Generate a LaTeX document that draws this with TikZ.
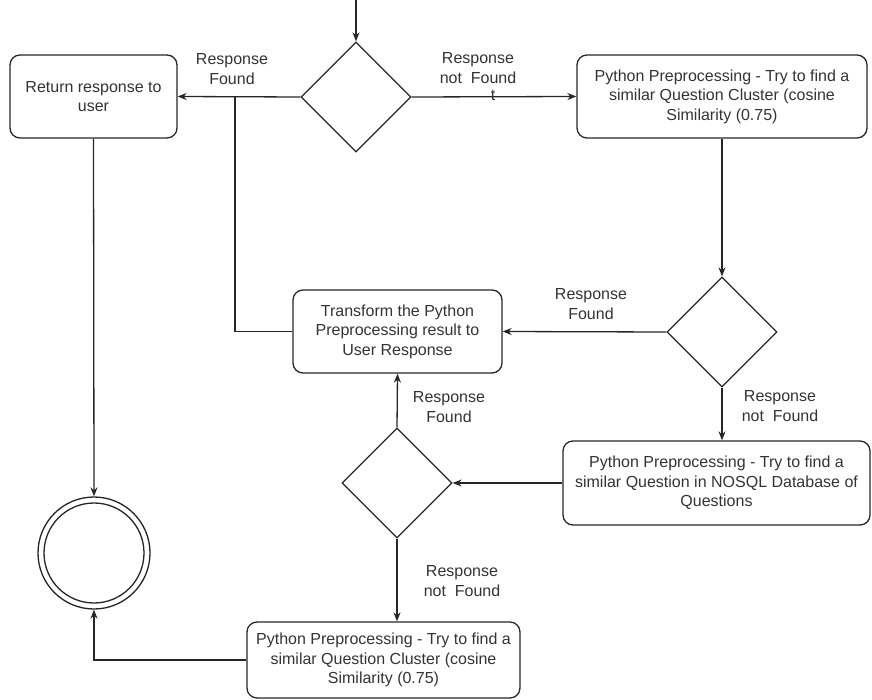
\documentclass[tikz,border=0pt]{standalone}
\usepackage{fontspec}
\setmainfont{Liberation Sans}
\usetikzlibrary{shapes.geometric,arrows.meta}
\newcommand\myfs{\fontsize{16}{19.5}\selectfont}
\begin{document}
\begin{tikzpicture}[x=1pt,y=-1pt,
  ln/.style={line width=1.3pt, draw=black!85},
  box/.style={draw=black!85, line width=1.3pt, rounded corners=10pt, align=center, inner sep=0pt, font=\myfs, text=black!80},
  dec/.style={draw=black!85, line width=1.3pt, diamond, aspect=1, minimum width=110pt, minimum height=110pt, inner sep=0pt},
  lbl/.style={align=center, font=\myfs, text=black!80, inner sep=0pt},
  arr/.style={ln, -{Stealth[length=9pt,width=7pt]}}
]
\useasboundingbox (0,0) rectangle (872,700);
\coordinate (start) at (356,0);
\coordinate (j) at (235,97);

\node[box, minimum width=167pt, minimum height=83pt] (ret) at (93.5,96.5) {Return response to\\user};
\node[box, minimum width=290pt, minimum height=83pt] (b2) at (722,96.5) {Python Preprocessing - Try to find a\\similar Question Cluster (cosine\\Similarity (0.75)};
\node[box, minimum width=209pt, minimum height=83pt] (tr) at (397.5,331.5) {Transform the Python\\Preprocessing result to\\User Response};
\node[box, minimum width=307pt, minimum height=84pt] (b3) at (716.5,483) {Python Preprocessing - Try to find a\\similar Question in NOSQL Database of\\Questions};
\node[box, minimum width=273pt, minimum height=76pt] (b4) at (383.5,660) {Python Preprocessing - Try to find a\\similar Question Cluster (cosine\\Similarity (0.75)};

\node[dec] (d1) at (356,97) {};
\node[dec] (d2) at (722,332) {};
\node[dec] (d3) at (397,483) {};

\node[draw=black!85, line width=1.3pt, circle, minimum size=112pt, inner sep=0pt] (end) at (94,553) {};
\draw[ln] (end.center) circle (50);

\draw[arr] (start) -- (d1.north);
\draw[arr] (d1.west) -- (ret.east);
\draw[arr] (d1.east) -- (b2.west);
\draw[arr] (b2.south) -- (d2.north);
\draw[arr] (d2.west) -- (tr.east);
\draw[arr] (d2.south) -- (d2.south |- b3.north);
\draw[arr] (b3.west) -- (d3.east);
\draw[arr] (d3.north) -- (tr.south);
\draw[arr] (d3.south) -- (d3.south |- b4.north);
\draw[arr] (b4.west) -| (end.south);
\draw[arr] (ret.south) -- (end.north);
\draw[ln] (tr.west) -| (j);

\node[lbl] (l1) at (232,69) {Response\\Found};
\node[lbl] (l2) at (478,68) {Response\\not~ Found};
\node[lbl] (lt) at (493,95) {t};
\node[lbl] (l3) at (591,304) {Response\\Found};
\node[lbl] (l4) at (780,406) {Response\\not~ Found};
\node[lbl] (l5) at (449,407) {Response\\Found};
\node[lbl] (l6) at (462,581) {Response\\not~ Found};
\end{tikzpicture}
\end{document}
